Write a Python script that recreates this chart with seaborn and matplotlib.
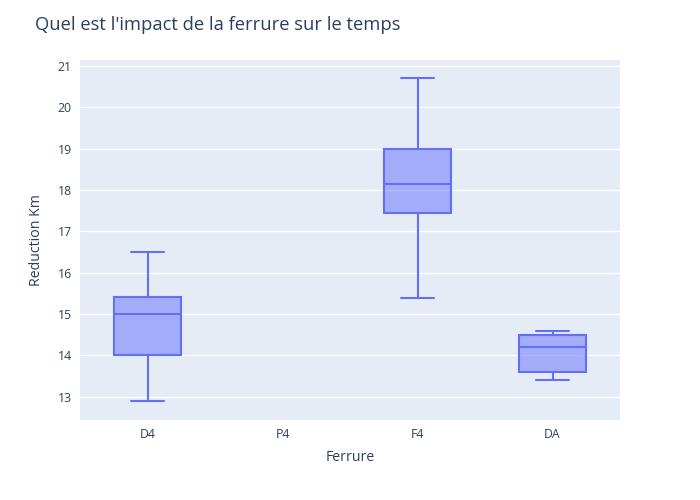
import matplotlib
matplotlib.use("Agg")
import matplotlib.pyplot as plt
import seaborn as sns
import pandas as pd

categories = ["D4", "P4", "F4", "DA"]
d4_values = [12.9, 14.0, 15.0, 15.42, 16.5]
p4_values = []
f4_values = [15.4, 17.45, 18.15, 19.0, 20.7]
da_values = [13.4, 13.6, 14.2, 14.5, 14.6]
y_ticks = [13, 14, 15, 16, 17, 18, 19, 20, 21]

rows = []
for cat, vals in zip(categories, [d4_values, p4_values, f4_values, da_values]):
    for v in vals:
        rows.append({"Ferrure": cat, "Reduction Km": v})
df = pd.DataFrame(rows)

sns.set_theme(style="white")
plt.rcParams["font.family"] = ["Open Sans", "DejaVu Sans"]

fig = plt.figure(figsize=(7, 5), dpi=100)
ax = fig.add_axes([80/700, 1 - 420/500, 540/700, 360/500])
ax.set_facecolor("#E5ECF6")

line = "#636efa"
sns.boxplot(data=df, x="Ferrure", y="Reduction Km", order=categories, ax=ax,
            width=0.5, saturation=1, linecolor=line, linewidth=1.5, whis=10,
            boxprops={"facecolor": (0.388, 0.431, 0.980, 0.5), "edgecolor": line},
            medianprops={"color": line}, whiskerprops={"color": line},
            capprops={"color": line}, showfliers=False)

ax.set_ylim(12.44, 21.145)
ax.set_xlim(-0.5, 3.5)
ax.set_yticks(y_ticks)
ax.grid(axis="y", color="white", linewidth=1)
ax.set_axisbelow(True)
for s in ax.spines.values():
    s.set_visible(False)
ax.tick_params(axis="both", length=0, labelsize=8.8, colors="#2a3f5f", pad=6)
ax.set_xlabel("Ferrure", fontsize=10.2, color="#2a3f5f", labelpad=6)
ax.set_ylabel("Reduction Km", fontsize=10.2, color="#2a3f5f", labelpad=10)
fig.text(35/700, 1 - 25/500, "Quel est l'impact de la ferrure sur le temps",
         fontsize=13.2, color="#2a3f5f", va="center", ha="left")

fig.savefig("out.png", dpi=100, facecolor="white")
